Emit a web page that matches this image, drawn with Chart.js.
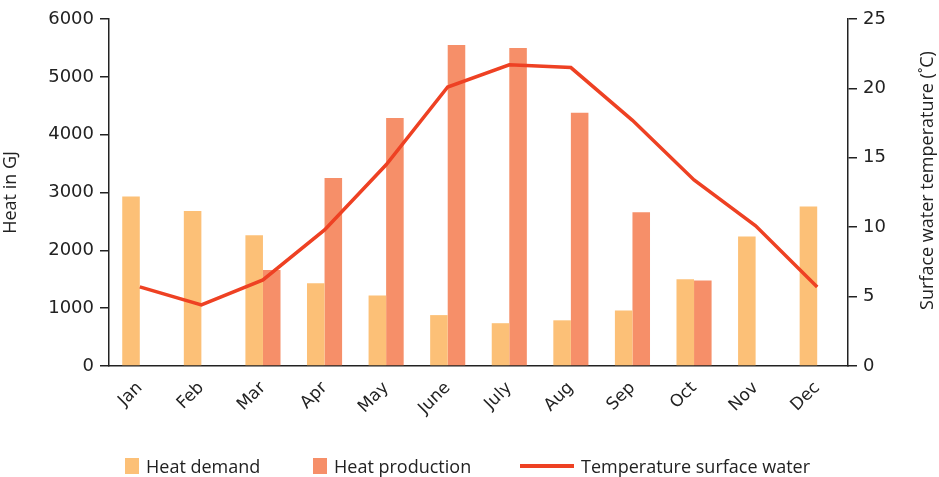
<!DOCTYPE html>
<html>
<head>
<meta charset="utf-8">
<script src="https://cdn.jsdelivr.net/npm/chart.js@4"></script>
<style>
  html, body { margin: 0; padding: 0; background: #fff; }
  #wrap { position: relative; width: 939px; height: 477px; }
  #legend { position: absolute; left: 0; top: 454px; width: 939px; height: 24px; font-family: "Open Sans", sans-serif; font-size: 18px; color: #222; }
  .item { position: absolute; top: 0; display: flex; align-items: center; height: 24px; white-space: nowrap; }
  .box { display: inline-block; width: 14px; height: 16px; margin-right: 7px; }
  .ln { display: inline-block; width: 54px; height: 4px; margin-right: 7px; }
</style>
</head>
<body>
<div id="wrap">
  <canvas id="c" width="939" height="477"></canvas>
  <div id="legend"></div>
</div>
<script>
const months = ["Jan","Feb","Mar","Apr","May","June","July","Aug","Sep","Oct","Nov","Dec"];
const heatDemand = [2930, 2680, 2260, 1430, 1220, 880, 740, 790, 960, 1500, 2240, 2760];
const heatProduction = [null, null, 1660, 3250, 4290, 5550, 5500, 4380, 2660, 1480, null, null];
const waterTemperature = [5.7, 4.4, 6.2, 9.8, 14.5, 20.1, 21.7, 21.5, 17.7, 13.4, 10.1, 5.7];
const leftTicks = [0, 1000, 2000, 3000, 4000, 5000, 6000];
const rightTicks = [0, 5, 10, 15, 20, 25];
const seriesNames = ["Heat demand", "Heat production", "Temperature surface water"];
const leftTitle = "Heat in GJ";
const rightTitle = "Surface water temperature (˚C)";

const colDemand = "#FCC077";
const colProd = "#F68F69";
const colLine = "#EE4123";
const axisCol = "#222";

const legendEl = document.getElementById("legend");
const legendItems = [
  { name: seriesNames[0], kind: "box", color: colDemand, left: 125 },
  { name: seriesNames[1], kind: "box", color: colProd, left: 313 },
  { name: seriesNames[2], kind: "ln", color: colLine, left: 520 }
];
legendItems.forEach(it => {
  const d = document.createElement("div");
  d.className = "item";
  d.style.left = it.left + "px";
  const s = document.createElement("span");
  s.className = it.kind;
  s.style.background = it.color;
  d.appendChild(s);
  const t = document.createElement("span");
  t.textContent = it.name;
  d.appendChild(t);
  legendEl.appendChild(d);
});

// draws the right axis title reading bottom-to-top, like the left one
const rightTitlePlugin = {
  id: "rightTitle",
  afterDraw(chart) {
    const ctx = chart.ctx;
    const a = chart.chartArea;
    ctx.save();
    ctx.translate(928, (a.top + a.bottom) / 2 - 12);
    ctx.rotate(-Math.PI / 2);
    ctx.font = '18px "Open Sans"';
    ctx.fillStyle = axisCol;
    ctx.textAlign = "center";
    ctx.textBaseline = "middle";
    ctx.fillText(rightTitle, 0, 0);
    ctx.restore();
  }
};

new Chart(document.getElementById("c"), {
  data: {
    labels: months,
    datasets: [
      { type: "line", label: seriesNames[2], data: waterTemperature, yAxisID: "y1",
        borderColor: colLine, borderWidth: 3.5, pointRadius: 0, tension: 0, order: 0 },
      { type: "bar", label: seriesNames[0], data: heatDemand, yAxisID: "y",
        backgroundColor: colDemand, categoryPercentage: 0.57, barPercentage: 1.0, order: 1 },
      { type: "bar", label: seriesNames[1], data: heatProduction, yAxisID: "y",
        backgroundColor: colProd, categoryPercentage: 0.57, barPercentage: 1.0, order: 1 }
    ]
  },
  plugins: [rightTitlePlugin],
  options: {
    responsive: false,
    animation: false,
    layout: { padding: { top: 19, left: 0, right: 0, bottom: 0 } },
    plugins: { legend: { display: false }, tooltip: { enabled: false } },
    scales: {
      x: {
        grid: { display: false },
        border: { display: true, color: axisCol, width: 1.5 },
        ticks: { color: axisCol, font: { family: "DejaVu Sans", size: 17 }, minRotation: 45, maxRotation: 45, padding: 4 },
        afterFit: s => { s.height = 111; }
      },
      y: {
        position: "left", min: 0, max: 6000,
        afterBuildTicks: s => { s.ticks = leftTicks.map(v => ({ value: v })); },
        grid: { drawOnChartArea: false, drawTicks: true, tickLength: 9, color: axisCol, lineWidth: 1.5 },
        border: { display: true, color: axisCol, width: 1.5 },
        ticks: { color: axisCol, font: { family: "DejaVu Sans", size: 18 }, padding: 6, callback: v => String(v) },
        title: { display: true, text: leftTitle, color: axisCol, font: { family: "Open Sans", size: 18 }, padding: { top: 0, bottom: 0 } },
        afterFit: s => { s.width = 109; }
      },
      y1: {
        position: "right", min: 0, max: 25,
        afterBuildTicks: s => { s.ticks = rightTicks.map(v => ({ value: v })); },
        grid: { drawOnChartArea: false, drawTicks: true, tickLength: 9, color: axisCol, lineWidth: 1.5 },
        border: { display: true, color: axisCol, width: 1.5 },
        ticks: { color: axisCol, font: { family: "DejaVu Sans", size: 18 }, padding: 6, callback: v => String(v) },
        title: { display: false },
        afterFit: s => { s.width = 91; }
      }
    }
  }
});
</script>
</body>
</html>
